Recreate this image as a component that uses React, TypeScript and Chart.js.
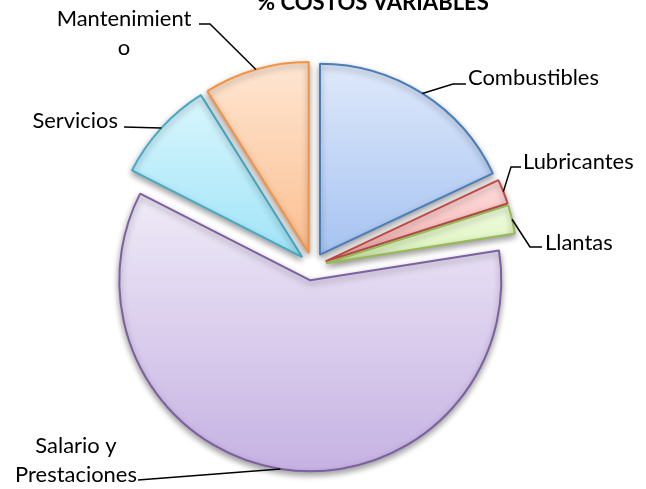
import React, { useEffect, useRef } from "react";
import { Chart, registerables } from "chart.js";

Chart.register(...registerables);

const TITLE = "% COSTOS VARIABLES";
const categories = ["Combustibles", "Lubricantes", "Llantas", "Salario y Prestaciones", "Servicios", "Mantenimiento"];
const values = [18.0, 2.1, 2.4, 60.0, 8.6, 8.9];
const labelLines = [["Combustibles"], ["Lubricantes"], ["Llantas"], ["Salario y", "Prestaciones"], ["Servicios"], ["Mantenimient", "o"]];
const borderColors = ["#4a7ebb", "#be4b48", "#98b954", "#7d60a0", "#46aac5", "#f69240"];
const fillTop = ["#dfe9fb", "#fddcdc", "#f0fcdf", "#efeaf7", "#d9f6fd", "#fee6d2"];
const fillBottom = ["#a6c3f1", "#f7b3b2", "#d9f2b9", "#c6b2e3", "#a0e4f8", "#fbbf90"];

// label layout: text anchor + leader-line bend points (text side first)
const labelLayout = [
  { x: 468, y: 85, align: "left", path: [[466, 84], [453, 84]] },
  { x: 523, y: 169, align: "left", path: [[521, 167], [511, 167]] },
  { x: 545, y: 250, align: "left", path: [[542, 247], [530, 247]] },
  { x: 76, y: 453, align: "center", path: [[138, 480]] },
  { x: 118, y: 128, align: "right", path: [[124, 127]] },
  { x: 124, y: 26, align: "center", path: [[199, 24], [210, 24]] },
];

const EXPLODE = 14;
const FONT = "Lato, 'Open Sans', sans-serif";

const explodePlugin = {
  id: "explode",
  afterDatasetUpdate(chart: any, args: any) {
    const meta = chart.getDatasetMeta(args.index);
    meta.data.forEach((el: any) => {
      const mid = (el.startAngle + el.endAngle) / 2;
      el.x += Math.cos(mid) * EXPLODE;
      el.y += Math.sin(mid) * EXPLODE;
    });
  },
  beforeDatasetsDraw(chart: any) {
    const ctx = chart.ctx;
    const meta = chart.getDatasetMeta(0);
    meta.data.forEach((el: any, i: number) => {
      const { x, y, startAngle, endAngle, outerRadius } = el;
      let minY = y, maxY = y;
      const angles = [startAngle, endAngle];
      for (let k = -4; k <= 8; k++) {
        const a = (k * Math.PI) / 2;
        if (a > startAngle && a < endAngle) angles.push(a);
      }
      angles.forEach((a) => {
        const py = y + Math.sin(a) * outerRadius;
        minY = Math.min(minY, py);
        maxY = Math.max(maxY, py);
      });
      const g = ctx.createLinearGradient(0, minY, 0, maxY);
      g.addColorStop(0, fillTop[i]);
      g.addColorStop(1, fillBottom[i]);
      el.options.backgroundColor = g;
    });
    ctx.save();
    ctx.shadowColor = "rgba(0,0,0,0.38)";
    ctx.shadowBlur = 6;
    ctx.shadowOffsetX = 0;
    ctx.shadowOffsetY = 3;
  },
  afterDatasetsDraw(chart: any) {
    chart.ctx.restore();
  },
};

const labelPlugin = {
  id: "pieLabels",
  afterDraw(chart: any) {
    const ctx = chart.ctx;
    const meta = chart.getDatasetMeta(0);
    ctx.save();
    // fit label font
    ctx.font = `100px ${FONT}`;
    const lblSize = (100 * 131) / ctx.measureText("Combustibles").width;
    ctx.font = `bold 100px ${FONT}`;
    const ttlSize = (100 * 232) / ctx.measureText(TITLE).width;

    ctx.fillStyle = "#000";
    ctx.textBaseline = "alphabetic";
    ctx.textAlign = "center";
    ctx.font = `bold ${ttlSize}px ${FONT}`;
    ctx.fillText(TITLE, 373, 10);

    ctx.font = `${lblSize}px ${FONT}`;
    const lh = lblSize * 1.3;
    meta.data.forEach((el: any, i: number) => {
      const L = labelLayout[i];
      ctx.textAlign = L.align;
      labelLines[i].forEach((t, j) => ctx.fillText(t, L.x, L.y + j * lh));
      const mid = (el.startAngle + el.endAngle) / 2;
      const ax = el.x + Math.cos(mid) * el.outerRadius;
      const ay = el.y + Math.sin(mid) * el.outerRadius;
      ctx.beginPath();
      ctx.moveTo(L.path[0][0], L.path[0][1]);
      for (let k = 1; k < L.path.length; k++) ctx.lineTo(L.path[k][0], L.path[k][1]);
      ctx.lineTo(ax, ay);
      ctx.strokeStyle = "#000";
      ctx.lineWidth = 1.5;
      ctx.stroke();
    });
    ctx.restore();
  },
};

export default function App() {
  const ref = useRef<HTMLCanvasElement>(null);
  useEffect(() => {
    if (!ref.current) return;
    const chart = new Chart(ref.current, {
      type: "pie",
      data: {
        labels: categories,
        datasets: [
          {
            data: values,
            backgroundColor: fillTop,
            borderColor: borderColors,
            borderWidth: 2,
            offset: 0,
          },
        ],
      },
      options: {
        responsive: false,
        animation: false,
        radius: 191,
        layout: { padding: { left: 0, right: 21, top: 44, bottom: 0 } },
        plugins: { legend: { display: false }, title: { display: false }, tooltip: { enabled: false } },
        events: [],
      },
      plugins: [explodePlugin, labelPlugin],
    });
    return () => chart.destroy();
  }, []);
  return (
    <div style={{ position: "absolute", left: 0, top: 0, width: 646, height: 489, background: "#fff" }}>
      <canvas ref={ref} width={646} height={489} />
    </div>
  );
}
